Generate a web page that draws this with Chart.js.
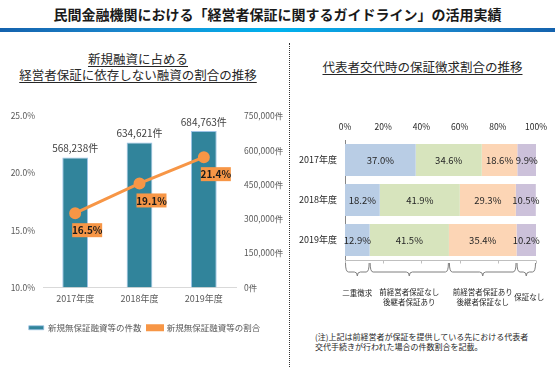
<!DOCTYPE html>
<html><head><meta charset="utf-8">
<script src="https://cdn.jsdelivr.net/npm/chart.js@4"></script>
<style>
html,body{margin:0;padding:0}
body{width:555px;height:367px;background:#fff;position:relative;overflow:hidden;font-family:"Noto Sans CJK JP",sans-serif;color:#262626}
.abs{position:absolute}
#title{left:0;top:4px;width:555px;text-align:center;font-size:14px;font-weight:bold;line-height:20px;color:#1a1a1a}
#rule{left:0;top:28px;width:555px;height:4px;background:linear-gradient(to right,#1462ad 0%,#1a86cc 22%,#00b2ee 50%,#1a86cc 78%,#1462ad 100%)}
#divider{left:289px;top:43px;height:324px;border-left:1px dotted #333}
.sub{font-size:12.5px;line-height:16px;text-decoration:underline;text-underline-offset:2px;text-align:center;color:#262626}
#subL{left:0;top:51px;width:276px}
#subR{left:290px;top:59px;width:265px}
#note{left:315px;top:332px;font-size:8px;line-height:9.5px;color:#262626;white-space:nowrap}
</style>
</head><body>
<div id="title" class="abs">民間金融機関における「経営者保証に関するガイドライン」の活用実績</div>
<div id="rule" class="abs"></div>
<div id="divider" class="abs"></div>
<div id="subL" class="abs sub">新規融資に占める<br>経営者保証に依存しない融資の割合の推移</div>
<div id="subR" class="abs sub">代表者交代時の保証徴求割合の推移</div>
<div id="note" class="abs">(注)上記は前経営者が保証を提供している先における代表者<br>交代手続きが行われた場合の件数割合を記載。</div>
<canvas id="cL" class="abs" style="left:0;top:100px;width:289px;height:242px" width="289" height="242"></canvas>
<canvas id="cR" class="abs" style="left:290px;top:105px;width:265px;height:205px" width="265" height="205"></canvas>
<script>
// ---- Data ----
const years = ['2017年度', '2018年度', '2019年度'];
const loanCounts = [568238, 634621, 684763];
const loanRatio = [16.5, 19.1, 21.4];
const countTickLabelsUnit = '件';

const sharedCats = ['二重徴求', '前経営者保証なし後継者保証あり', '前経営者保証あり後継者保証なし', '保証なし'];
const doubleGuarantee = [37.0, 18.2, 12.9];
const successorOnly = [34.6, 41.9, 41.5];
const predecessorOnly = [18.6, 29.3, 35.4];
const noGuarantee = [9.9, 10.5, 10.2];
const braceLabels = [['二重徴求'], ['前経営者保証なし', '後継者保証あり'], ['前経営者保証あり', '後継者保証なし'], ['保証なし']];

const FONT = '"Noto Sans CJK JP", sans-serif';

// ---- Left chart ----
const leftLabels = {
  id: 'leftLabels',
  afterDatasetsDraw(chart) {
    const ctx = chart.ctx;
    ctx.save();
    const barMeta = chart.getDatasetMeta(0);
    ctx.font = '10px ' + FONT;
    ctx.fillStyle = '#404040';
    ctx.textAlign = 'center';
    ctx.textBaseline = 'middle';
    barMeta.data.forEach((el, i) => {
      ctx.fillText(loanCounts[i].toLocaleString('en-US') + '件', el.x, el.y - 9);
    });
    const lineMeta = chart.getDatasetMeta(1);
    lineMeta.data.forEach((el, i) => {
      const cx = el.x + 12, cy = el.y + 17;
      ctx.fillStyle = '#F79646';
      ctx.fillRect(cx - 15, cy - 7, 30, 14);
      ctx.fillStyle = '#1a1a1a';
      ctx.font = 'bold 10px ' + FONT;
      ctx.fillText(loanRatio[i].toFixed(1) + '%', cx, cy + 0.5);
    });
    ctx.restore();
  }
};

new Chart(document.getElementById('cL'), {
  data: {
    labels: years,
    datasets: [
      {
        type: 'bar', label: '新規無保証融資等の件数', data: loanCounts, yAxisID: 'y1', order: 1,
        backgroundColor: '#31849B', borderColor: '#9DC3E6', borderWidth: {left:1,right:1,top:1,bottom:0},
        barPercentage: 0.4, categoryPercentage: 1.0
      },
      {
        type: 'line', label: '新規無保証融資等の割合', data: loanRatio, yAxisID: 'y', order: 0,
        borderColor: '#F79646', backgroundColor: '#F79646', borderWidth: 3,
        pointRadius: 4.5, pointBackgroundColor: '#F79646', pointBorderColor: '#F79646'
      }
    ]
  },
  options: {
    responsive: false, animation: false, devicePixelRatio: 1,
    layout: { padding: { top: 16, left: 0, right: 0, bottom: 0 } },
    plugins: {
      tooltip: { enabled: false },
      legend: {
        position: 'bottom',
        labels: {
          boxWidth: 15, boxHeight: 4, padding: 6, color: '#595959',
          font: { size: 8.5, family: FONT },
          sort: (a, b) => a.datasetIndex - b.datasetIndex
        }
      }
    },
    scales: {
      x: {
        grid: { display: false, drawTicks: false },
        border: { display: true, color: '#d9d9d9' },
        ticks: { padding: 6, color: '#595959', font: { size: 9, family: FONT } },
        afterFit(s) { s.height = 30; }
      },
      y: {
        position: 'left', min: 10, max: 25,
        grid: { display: false, drawTicks: false }, border: { display: false },
        ticks: { stepSize: 5, padding: 8, color: '#595959', font: { size: 8.5, family: FONT },
          callback: v => v.toFixed(1) + '%' },
        afterFit(s) { s.width = 43; }
      },
      y1: {
        position: 'right', min: 0, max: 750000,
        grid: { display: false, drawTicks: false }, border: { display: false },
        ticks: { stepSize: 150000, padding: 8, color: '#595959', font: { size: 8.5, family: FONT },
          callback: v => v.toLocaleString('en-US') + countTickLabelsUnit },
        afterFit(s) { s.width = 53; }
      }
    }
  },
  plugins: [leftLabels]
});

// ---- Right chart ----
const rightExtras = {
  id: 'rightExtras',
  afterDatasetsDraw(chart) {
    const ctx = chart.ctx;
    ctx.save();
    ctx.font = '9.5px ' + FONT;
    ctx.fillStyle = '#262626';
    ctx.textAlign = 'center';
    ctx.textBaseline = 'middle';
    chart.data.datasets.forEach((ds, di) => {
      chart.getDatasetMeta(di).data.forEach((el, i) => {
        ctx.fillText(ds.data[i].toFixed(1) + '%', (el.x + el.base) / 2, el.y + 0.5);
      });
    });
    ctx.restore();
  },
  afterDraw(chart) {
    const ctx = chart.ctx;
    const xs = chart.scales.x;
    const area = chart.chartArea;
    ctx.save();
    ctx.strokeStyle = '#bfbfbf';
    ctx.lineWidth = 1;
    const yb = Math.round(area.bottom) + 0.5;
    ctx.beginPath();
    ctx.moveTo(area.left, yb); ctx.lineTo(area.right, yb);
    for (let v = 0; v <= 100; v += 20) {
      const px = Math.round(xs.getPixelForValue(v)) + 0.5;
      ctx.moveTo(px, yb); ctx.lineTo(px, yb + 3);
    }
    ctx.stroke();
    const last = years.length - 1;
    const parts = [doubleGuarantee[last], successorOnly[last], predecessorOnly[last], noGuarantee[last]];
    let cum = 0;
    const bounds = [0];
    parts.forEach(p => { cum += p; bounds.push(Math.min(cum, 100)); });
    const yTop = area.bottom + 3, yMid = area.bottom + 12, yTip = area.bottom + 16;
    ctx.strokeStyle = '#7f7f7f';
    ctx.lineWidth = 1;
    ctx.font = '7.5px ' + FONT;
    ctx.fillStyle = '#262626';
    ctx.textAlign = 'center';
    ctx.textBaseline = 'middle';
    for (let k = 0; k < parts.length; k++) {
      const x0 = xs.getPixelForValue(bounds[k]) + 0.5;
      const x1 = xs.getPixelForValue(bounds[k + 1]) - 0.5;
      const xm = (x0 + x1) / 2;
      const r = Math.min(3, (x1 - x0) / 4);
      ctx.beginPath();
      ctx.moveTo(x0, yTop);
      ctx.quadraticCurveTo(x0, yMid, x0 + r, yMid);
      ctx.lineTo(xm - r, yMid);
      ctx.quadraticCurveTo(xm, yMid, xm, yTip);
      ctx.quadraticCurveTo(xm, yMid, xm + r, yMid);
      ctx.lineTo(x1 - r, yMid);
      ctx.quadraticCurveTo(x1, yMid, x1, yTop);
      ctx.stroke();
      const lines = braceLabels[k];
      const baseY = lines.length === 1 ? (k === parts.length - 1 ? area.bottom + 37 : area.bottom + 33) : area.bottom + 32;
      lines.forEach((t, j) => ctx.fillText(t, xm + (k === parts.length - 1 ? 3 : 0), baseY + j * 10));
    }
    ctx.restore();
  }
};

new Chart(document.getElementById('cR'), {
  type: 'bar',
  data: {
    labels: years,
    datasets: [
      { label: sharedCats[0], data: doubleGuarantee, backgroundColor: '#B9CDE5' },
      { label: sharedCats[1], data: successorOnly, backgroundColor: '#D7E4BD' },
      { label: sharedCats[2], data: predecessorOnly, backgroundColor: '#FCD5B5' },
      { label: sharedCats[3], data: noGuarantee, backgroundColor: '#CCC1DA' }
    ]
  },
  options: {
    indexAxis: 'y', responsive: false, animation: false, devicePixelRatio: 1,
    datasets: { bar: { barPercentage: 0.8, categoryPercentage: 1.0 } },
    layout: { padding: { top: 5, left: 0, right: 17, bottom: 50 } },
    plugins: { legend: { display: false }, tooltip: { enabled: false } },
    scales: {
      x: {
        position: 'top', stacked: true, min: 0, max: 100,
        grid: { display: false, drawTicks: false }, border: { display: false },
        ticks: { stepSize: 20, padding: 8, color: '#262626', font: { size: 8.5, family: FONT },
          callback: v => v + '%' },
        afterFit(s) { s.height = 30; }
      },
      y: {
        stacked: true,
        grid: { display: false, drawTicks: false },
        border: { display: true, color: '#868686', width: 1 },
        ticks: { padding: 8, color: '#262626', font: { size: 9, family: FONT } },
        afterFit(s) { s.width = 55; }
      }
    }
  },
  plugins: [rightExtras]
});
</script>
</body></html>
